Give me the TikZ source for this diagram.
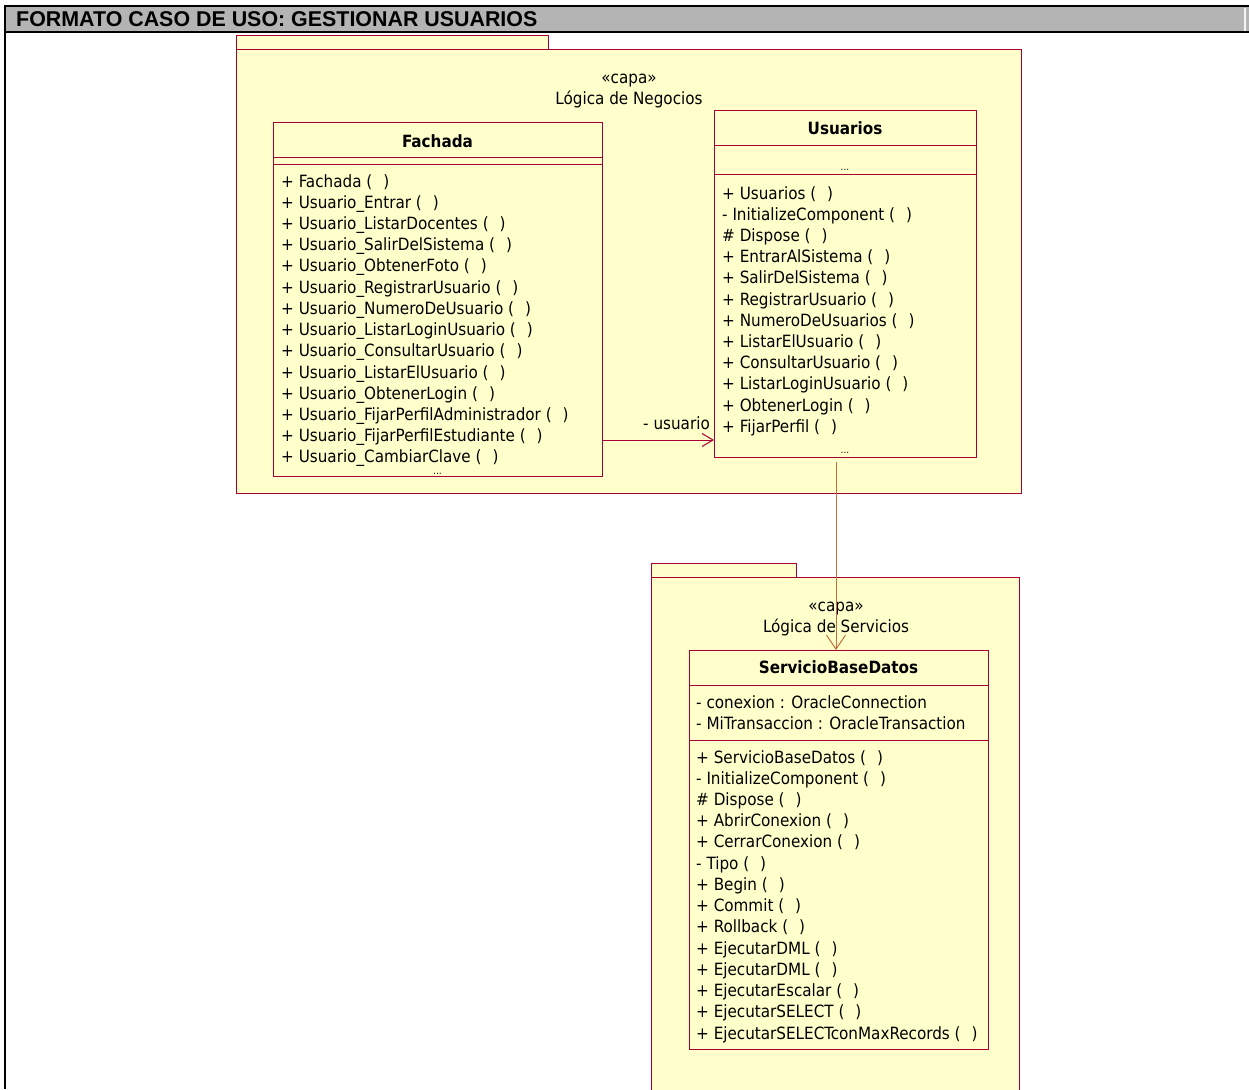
\documentclass[tikz,border=0pt]{standalone}
\usepackage{fontspec}
\setmainfont{DejaVu Sans Condensed}
\newfontfamily\titlefont{Liberation Sans}
\usetikzlibrary{arrows.meta}

\definecolor{umlfill}{RGB}{255,255,204}
\definecolor{umlline}{RGB}{168,0,54}
\definecolor{deparrow}{RGB}{196,110,60}
\definecolor{headgray}{RGB}{180,180,180}

% empty parameter list of an operation
\newcommand\callp{(\hspace{11pt})}

\begin{document}
\begin{tikzpicture}[x=1pt,y=-1pt,
  pkgshape/.style={fill=umlfill, draw=umlline, line width=1pt, anchor=north west,
    inner sep=0pt, outer sep=0pt},
  classbox/.style={fill=umlfill, draw=umlline, line width=1pt, anchor=north west,
    inner sep=0pt, outer sep=0pt},
  sepline/.style={draw=umlline, line width=1pt},
  member/.style={anchor=base west, inner sep=0pt, font=\fontsize{16.9}{20}\selectfont},
  centred/.style={anchor=base, inner sep=0pt, font=\fontsize{16.9}{20}\selectfont},
  cname/.style={anchor=base, inner sep=0pt, font=\fontsize{16.9}{20}\selectfont\bfseries},
  more/.style={anchor=base, inner sep=0pt, font=\fontsize{10}{11}\selectfont},
  assoc/.style={draw=umlline, line width=1pt, -{Straight Barb[length=11pt,width=13pt]}},
  dependency/.style={draw=deparrow, line width=1pt, -{Straight Barb[length=14pt,width=19pt]}}
]
\useasboundingbox (0,0) rectangle (1249,1089);

% ---- heading bar ----
\fill[headgray] (5,6) rectangle (1249,32);
\draw[white!85!headgray, line width=1.2pt] (1245,8) -- (1245,31);
\draw[black, line width=2pt] (4,6) -- (1249,6);
\draw[black, line width=2pt] (4,32) -- (1249,32);
\draw[black, line width=2pt] (5,5) -- (5,1089);
\node[anchor=base west, inner sep=0pt, font=\titlefont\bfseries\fontsize{21.4}{24}\selectfont]
  (title) at (16,26.5) {FORMATO CASO DE USO: GESTIONAR USUARIOS};

% ---- package: Logica de Negocios ----
\node[pkgshape, minimum width=312pt, minimum height=14pt] (negtab) at (236,36) {};
\node[pkgshape, minimum width=785pt, minimum height=443pt] (negocios) at (236,50) {};
\node[centred] (negstereo) at (629,84) {«capa»};
\node[centred] (negname) at (629,105) {Lógica de Negocios};

% ---- package: Logica de Servicios (runs past the lower edge) ----
\node[pkgshape, minimum width=145pt, minimum height=14pt] (sertab) at (651,563) {};
\node[pkgshape, minimum width=368pt, minimum height=540pt] (servicios) at (651,577) {};
\node[centred] (serstereo) at (836,611) {«capa»};
\node[centred] (sername) at (836,632) {Lógica de Servicios};

% ---- class Fachada ----
\node[classbox, minimum width=329pt, minimum height=353pt] (fachada) at (273,123) {};
\draw[sepline] (fachada.west |- 0,157) -- (fachada.east |- 0,157);
\draw[sepline] (fachada.west |- 0,164) -- (fachada.east |- 0,164);
\node[cname] (fachadaname) at (437.5,147) {Fachada};
\foreach \m [count=\i from 0] in {
  + Fachada \callp,
  + Usuario\_Entrar \callp,
  + Usuario\_ListarDocentes \callp,
  + Usuario\_SalirDelSistema \callp,
  + Usuario\_ObtenerFoto \callp,
  + Usuario\_RegistrarUsuario \callp,
  + Usuario\_NumeroDeUsuario \callp,
  + Usuario\_ListarLoginUsuario \callp,
  + Usuario\_ConsultarUsuario \callp,
  + Usuario\_ListarElUsuario \callp,
  + Usuario\_ObtenerLogin \callp,
  + Usuario\_FijarPerfilAdministrador \callp,
  + Usuario\_FijarPerfilEstudiante \callp,
  + Usuario\_CambiarClave \callp}
  \node[member] (fop\i) at (281,{187+21.23*\i}) {\m};
\node[more] (fachadamore) at (437.5,474) {...};

% ---- class Usuarios ----
\node[classbox, minimum width=262pt, minimum height=346pt] (usuarios) at (714,111) {};
\draw[sepline] (usuarios.west |- 0,145) -- (usuarios.east |- 0,145);
\draw[sepline] (usuarios.west |- 0,174) -- (usuarios.east |- 0,174);
\node[cname] (usuariosname) at (845,134) {Usuarios};
\node[more] (usuariosattr) at (845,170) {...};
\foreach \m [count=\i from 0] in {
  + Usuarios \callp,
  - InitializeComponent \callp,
  \# Dispose \callp,
  + EntrarAlSistema \callp,
  + SalirDelSistema \callp,
  + RegistrarUsuario \callp,
  + NumeroDeUsuarios \callp,
  + ListarElUsuario \callp,
  + ConsultarUsuario \callp,
  + ListarLoginUsuario \callp,
  + ObtenerLogin \callp,
  + FijarPerfil \callp}
  \node[member] (uop\i) at (722,{199+21.2*\i}) {\m};
\node[more] (usuariosmore) at (845,453) {...};

% ---- class ServicioBaseDatos ----
\node[classbox, minimum width=299pt, minimum height=399pt] (servicio) at (689,650) {};
\draw[sepline] (servicio.west |- 0,685) -- (servicio.east |- 0,685);
\draw[sepline] (servicio.west |- 0,740.5) -- (servicio.east |- 0,740.5);
\node[cname] (servicioname) at (838.5,673) {ServicioBaseDatos};
\node[member] (sattr0) at (696,708) {- conexion : OracleConnection};
\node[member] (sattr1) at (696,729.5) {- MiTransaccion : OracleTransaction};
\foreach \m [count=\i from 0] in {
  + ServicioBaseDatos \callp,
  - InitializeComponent \callp,
  \# Dispose \callp,
  + AbrirConexion \callp,
  + CerrarConexion \callp,
  - Tipo \callp,
  + Begin \callp,
  + Commit \callp,
  + Rollback \callp,
  + EjecutarDML \callp,
  + EjecutarDML \callp,
  + EjecutarEscalar \callp,
  + EjecutarSELECT \callp,
  + EjecutarSELECTconMaxRecords \callp}
  \node[member] (sop\i) at (696,{763+21.23*\i}) {\m};

% ---- association Fachada -> Usuarios ----
\draw[assoc] (fachada.east |- 0,440) -- (usuarios.west |- 0,440);
\node[member] (rolename) at (643,429) {- usuario};

% ---- dependency Usuarios -> ServicioBaseDatos ----
\coordinate (depstart) at (836,462);
\draw[dependency] (depstart) -- (servicio.north -| depstart);
\end{tikzpicture}
\end{document}
